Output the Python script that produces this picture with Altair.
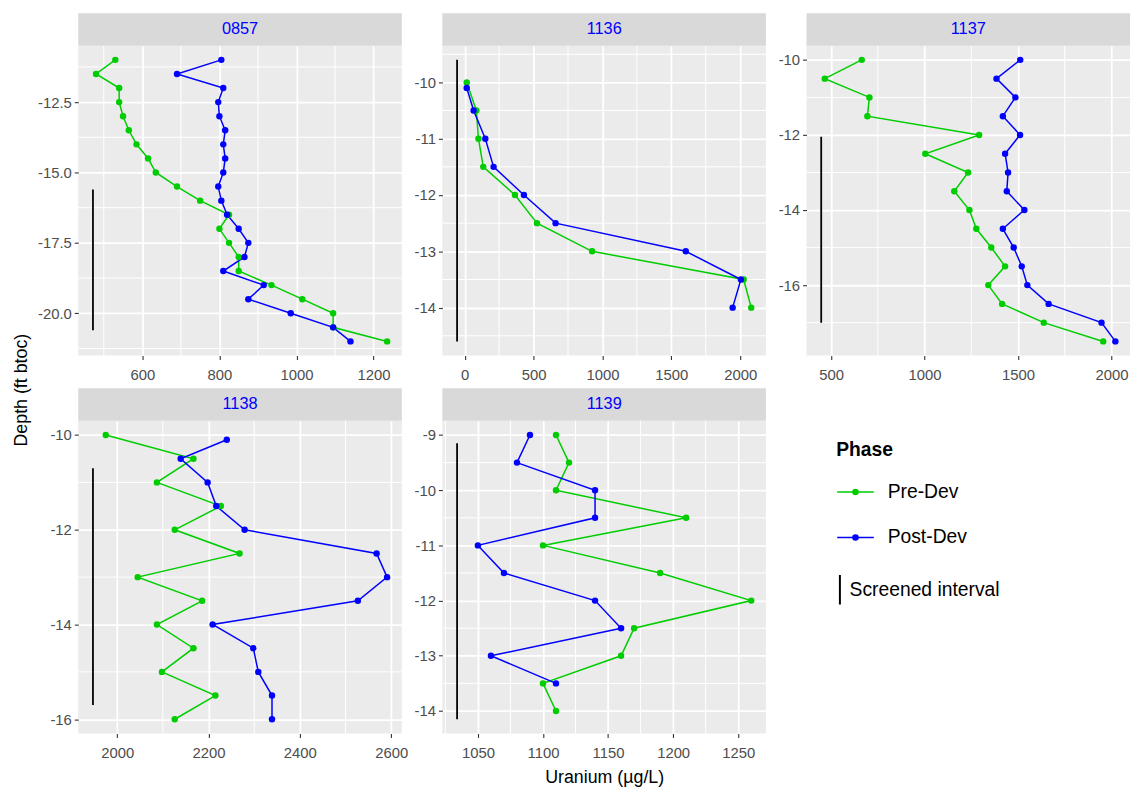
import altair as alt
import pandas as pd

# ---------------- data ----------------
wells = ["0857", "1136", "1137", "1138", "1139"]
phases = ["Pre-Dev", "Post-Dev"]
phase_colors = ["#00CD00", "#0000FF"]
screen_label = "Screened interval"

depth_0857 = [-11.0, -11.5, -12.0, -12.5, -13.0, -13.5, -14.0, -14.5, -15.0, -15.5, -16.0,
              -16.5, -17.0, -17.5, -18.0, -18.5, -19.0, -19.5, -20.0, -20.5, -21.0]
pre_0857 = [530, 480, 540, 540, 550, 565, 585, 615, 635, 690, 750,
            825, 800, 825, 850, 850, 935, 1015, 1095, 1095, 1235]
post_0857 = [805, 690, 810, 797, 800, 815, 810, 815, 810, 797, 805,
             820, 850, 875, 865, 810, 915, 875, 985, 1095, 1140]

depth_pre_1136 = [-10.0, -10.5, -11.0, -11.5, -12.0, -12.5, -13.0, -13.5, -14.0]
pre_1136 = [15, 85, 100, 135, 365, 525, 925, 2025, 2080]
depth_post_1136 = [-10.1, -10.5, -11.0, -11.5, -12.0, -12.5, -13.0, -13.5, -14.0]
post_1136 = [15, 65, 150, 210, 430, 660, 1605, 2005, 1945]

depth_1137 = [-10.0, -10.5, -11.0, -11.5, -12.0, -12.5, -13.0, -13.5,
              -14.0, -14.5, -15.0, -15.5, -16.0, -16.5, -17.0, -17.5]
pre_1137 = [664, 466, 705, 694, 1292, 1004, 1233, 1159,
            1240, 1277, 1357, 1431, 1341, 1415, 1638, 1956]
post_1137 = [1512, 1385, 1486, 1419, 1511, 1431, 1447, 1440,
             1534, 1419, 1477, 1520, 1550, 1664, 1947, 2021]

depth_pre_1138 = [-10.0, -10.5, -11.0, -11.5, -12.0, -12.5, -13.0, -13.5, -14.0, -14.5, -15.0, -15.5, -16.0]
pre_1138 = [1975, 2167, 2087, 2227, 2126, 2268, 2045, 2186, 2087, 2167, 2098, 2215, 2126]
depth_post_1138 = [-10.1, -10.5, -11.0, -11.5, -12.0, -12.5, -13.0, -13.5, -14.0, -14.5, -15.0, -15.5, -16.0]
post_1138 = [2240, 2139, 2198, 2217, 2279, 2568, 2591, 2527, 2209, 2298, 2309, 2339, 2339]

depth_pre_1139 = [-9.0, -9.5, -10.0, -10.5, -11.0, -11.5, -12.0, -12.5, -13.0, -13.5, -14.0]
pre_1139 = [1110, 1120, 1110, 1210, 1100, 1190, 1260, 1170, 1160, 1100, 1110]
depth_post_1139 = [-9.0, -9.5, -10.0, -10.5, -11.0, -11.5, -12.0, -12.5, -13.0, -13.5]
post_1139 = [1090, 1080, 1140, 1140, 1050, 1070, 1140, 1160, 1060, 1110]

# screened interval per well
screen_x = [472, -55, 447, 1947, 1034]
screen_top = [-15.6, -9.6, -12.05, -10.7, -9.15]
screen_bottom = [-20.6, -14.6, -17.0, -15.7, -14.15]

# axis breaks (major labelled, minor grid only)
x_major = {"0857": [600, 800, 1000, 1200], "1136": [0, 500, 1000, 1500, 2000],
           "1137": [500, 1000, 1500, 2000], "1138": [2000, 2200, 2400, 2600],
           "1139": [1050, 1100, 1150, 1200, 1250]}
x_minor = {"0857": [500, 700, 900, 1100], "1136": [250, 750, 1250, 1750],
           "1137": [750, 1250, 1750], "1138": [2100, 2300, 2500],
           "1139": [1025, 1075, 1125, 1175, 1225]}
y_major = {"0857": [-12.5, -15, -17.5, -20], "1136": [-10, -11, -12, -13, -14],
           "1137": [-10, -12, -14, -16], "1138": [-10, -12, -14, -16],
           "1139": [-9, -10, -11, -12, -13, -14]}
y_minor = {"0857": [-11.25, -13.75, -16.25, -18.75, -21.25],
           "1136": [-9.5, -10.5, -11.5, -12.5, -13.5, -14.5],
           "1137": [-11, -13, -15, -17], "1138": [-11, -13, -15],
           "1139": [-9.5, -10.5, -11.5, -12.5, -13.5]}

series = [
    ("0857", "Pre-Dev", depth_0857, pre_0857), ("0857", "Post-Dev", depth_0857, post_0857),
    ("1136", "Pre-Dev", depth_pre_1136, pre_1136), ("1136", "Post-Dev", depth_post_1136, post_1136),
    ("1137", "Pre-Dev", depth_1137, pre_1137), ("1137", "Post-Dev", depth_1137, post_1137),
    ("1138", "Pre-Dev", depth_pre_1138, pre_1138), ("1138", "Post-Dev", depth_post_1138, post_1138),
    ("1139", "Pre-Dev", depth_pre_1139, pre_1139), ("1139", "Post-Dev", depth_post_1139, post_1139),
]
rows = []
for well, phase, ds, us in series:
    for i, (d, u) in enumerate(zip(ds, us)):
        rows.append({"well": well, "phase": phase, "depth": d, "u": u, "idx": i})
data = pd.DataFrame(rows)
screens = pd.DataFrame({"well": wells, "sx": screen_x, "top": screen_top,
                        "bottom": screen_bottom, "kind": [screen_label] * len(wells)})

# ---------------- layout / style ----------------
W = 327
HEIGHTS = {"0857": 313, "1136": 313, "1137": 313, "1138": 316, "1139": 316}
STRIP_H = 33
FONT = "Liberation Sans"

phase_scale = alt.Scale(domain=phases, range=phase_colors)
phase_legend = alt.Legend(
    title="Phase", orient="none", legendX=766, legendY=400,
    symbolType="M-1,0L1,0M0.14,0A0.14,0.14,0,1,1,-0.14,0A0.14,0.14,0,1,1,0.14,0Z",
    symbolSize=1369, symbolStrokeWidth=1.5,
    labelFontSize=19.5, titleFontSize=19.5, titleFontWeight="bold",
    labelColor="black", titleColor="black", labelOffset=13, rowPadding=17,
    titlePadding=12, padding=0,
)
screen_legend = alt.Legend(
    title=None, orient="none", legendX=760, legendY=540,
    symbolType="M0,-3L0,3", symbolSize=100, symbolStrokeWidth=2,
    symbolStrokeColor="black", labelFontSize=19.5, labelColor="black",
    labelOffset=0, padding=0,
)
HYPHEN = "replace(datum.label, '\u2212', '-')"


def expand(vals):
    lo, hi = min(vals), max(vals)
    pad = 0.05 * (hi - lo)
    return [lo - pad, hi + pad]


def panel(w):
    df = data[data.well == w]
    sc = screens[screens.well == w]
    xdom = expand(list(df.u) + list(sc.sx))
    ydom = expand(list(df.depth) + list(sc.top) + list(sc.bottom))
    xscale = alt.Scale(domain=xdom, nice=False, zero=False)
    yscale = alt.Scale(domain=ydom, nice=False, zero=False)

    xkw = dict(values=x_major[w], format="d", labelExpr=HYPHEN, labelPadding=8,
               labelOverlap=False, labelFlush=False)
    if w == "1139":
        xaxis = alt.Axis(title="Uranium (µg/L)", titleY=36, **xkw)
    else:
        xaxis = alt.Axis(title=None, **xkw)
    ykw = dict(values=y_major[w], format=(".1f" if w == "0857" else "d"), labelExpr=HYPHEN,
               labelOverlap=False, labelFlush=False)
    if w == "0857":
        yaxis = alt.Axis(title="Depth (ft btoc)", titleX=-48, titleY=347.5, titleAngle=270,
                         titleBaseline="bottom", titleAlign="center", **ykw)
    else:
        yaxis = alt.Axis(title=None, **ykw)

    H = HEIGHTS[w]
    strip_df = pd.DataFrame({"well": [w]})
    strip_rect = alt.Chart(strip_df).mark_rect(fill="#D9D9D9").encode(
        x=alt.value(0), x2=alt.value(W), y=alt.value(-STRIP_H), y2=alt.value(0))
    strip_text = alt.Chart(strip_df).mark_text(
        color="#0000FF", fontSize=16.5, align="center", baseline="middle").encode(
        text="well:N", x=alt.value(W / 2), y=alt.value(-STRIP_H / 2))

    # minor grid lines (ggplot style)
    xminor = alt.Chart(pd.DataFrame({"xm": x_minor[w]})).mark_rule(
        color="white", strokeWidth=1.0).encode(x=alt.X("xm:Q", scale=xscale, axis=xaxis))
    yminor = alt.Chart(pd.DataFrame({"ym": y_minor[w]})).mark_rule(
        color="white", strokeWidth=1.0).encode(y=alt.Y("ym:Q", scale=yscale, axis=yaxis))

    rule = alt.Chart(sc).mark_rule(color="black", strokeWidth=1.8).encode(
        x=alt.X("sx:Q", scale=xscale, axis=xaxis),
        y=alt.Y("top:Q", scale=yscale, axis=yaxis),
        y2="bottom:Q",
        strokeDash=alt.StrokeDash("kind:N", scale=alt.Scale(domain=[screen_label], range=[[1, 0]]),
                                  legend=screen_legend),
    )
    lines = alt.Chart(df).mark_line(strokeWidth=1.5).encode(
        x=alt.X("u:Q", scale=xscale, axis=xaxis),
        y=alt.Y("depth:Q", scale=yscale, axis=yaxis),
        stroke=alt.Stroke("phase:N", scale=phase_scale, legend=phase_legend),
        order="idx:Q",
    )
    points = alt.Chart(df).mark_point(filled=True, size=42, opacity=1).encode(
        x=alt.X("u:Q", scale=xscale, axis=xaxis),
        y=alt.Y("depth:Q", scale=yscale, axis=yaxis),
        fill=alt.Fill("phase:N", scale=phase_scale, legend=phase_legend),
    )
    return alt.layer(strip_rect, strip_text, xminor, yminor, rule, lines, points).properties(
        width=W, height=H)


chart = alt.concat(*[panel(w) for w in wells], columns=3,
                   spacing={"row": 66, "column": 41}, bounds="flush").properties(
    padding={"left": 5, "top": 1, "right": 5, "bottom": 5}
).configure(font=FONT).configure_view(
    fill="#EBEBEB", stroke=None
).configure_axis(
    labelFontSize=15, labelColor="#4D4D4D", tickSize=4, tickWidth=1.1, tickColor="#333333",
    domain=False, gridColor="white", gridWidth=1.8, labelPadding=3,
    titleFontSize=18, titleColor="black", titleFontWeight="normal",
).configure_axisX(labelPadding=8)

chart.save("out.html", embed_options={"renderer": "svg", "actions": False})
